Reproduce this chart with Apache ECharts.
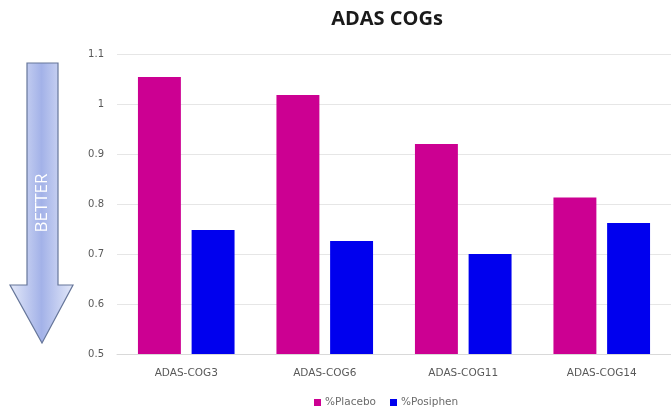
<!DOCTYPE html>
<html>
<head>
<meta charset="utf-8">
<script src="https://cdn.jsdelivr.net/npm/echarts@6/dist/echarts.min.js"></script>
<style>
  html, body { margin: 0; padding: 0; background: #fff; }
  #chart { width: 671px; height: 418px; }
</style>
</head>
<body>
<div id="chart"></div>
<script>
const categories = ['ADAS-COG3', 'ADAS-COG6', 'ADAS-COG11', 'ADAS-COG14']
const placebo = [1.054, 1.018, 0.92, 0.813]
const posiphen = [0.748, 0.726, 0.70, 0.762]
const seriesNames = ['%Placebo', '%Posiphen']

const chart = echarts.init(document.getElementById('chart'))

const option = {
  backgroundColor: '#fff',
  animation: false,
  title: {
    text: 'ADAS COGs',
    left: 382,
    top: 4,
    textAlign: 'center',
    textStyle: {
      fontFamily: 'Open Sans',
      fontSize: 20,
      fontWeight: 'bold',
      color: '#1a1a1a'
    }
  },
  legend: {
    data: seriesNames,
    bottom: 5,
    left: 309,
    itemWidth: 7,
    itemHeight: 7,
    itemGap: 14,
    icon: 'rect',
    textStyle: {
      fontFamily: 'DejaVu Sans',
      fontSize: 10.5,
      color: '#6b6b6b',
      padding: [0, 0, 0, -1]
    }
  },
  grid: {
    left: 117,
    right: -5,
    top: 54,
    bottom: 64
  },
  xAxis: {
    type: 'category',
    data: categories,
    axisLine: { lineStyle: { color: '#d9d9d9' } },
    axisTick: { show: false },
    axisLabel: {
      fontFamily: 'DejaVu Sans',
      fontSize: 10.5,
      color: '#595959',
      margin: 14
    }
  },
  yAxis: {
    type: 'value',
    min: 0.5,
    max: 1.1,
    interval: 0.1,
    axisLine: { show: false },
    axisTick: { show: false },
    axisLabel: {
      fontFamily: 'DejaVu Sans',
      fontSize: 10,
      color: '#595959',
      margin: 13,
      formatter: (v) => String(Math.round(v * 10) / 10)
    },
    splitLine: { lineStyle: { color: '#e6e6e6' } }
  },
  series: [
    {
      name: seriesNames[0],
      type: 'bar',
      data: placebo,
      barWidth: '31%',
      barGap: '25%',
      itemStyle: { color: '#cc0092' }
    },
    {
      name: seriesNames[1],
      type: 'bar',
      data: posiphen,
      barWidth: '31%',
      itemStyle: { color: '#0000ee' }
    }
  ],
  graphic: [
    {
      type: 'polygon',
      shape: {
        points: [[27, 63], [58, 63], [58, 285], [73, 285], [42, 343], [10, 285], [27, 285]]
      },
      style: {
        fill: {
          type: 'linear', x: 0, y: 0, x2: 1, y2: 0,
          colorStops: [
            { offset: 0, color: '#e4e9f9' },
            { offset: 0.5, color: '#a3b2e8' },
            { offset: 1, color: '#e4e9f9' }
          ]
        },
        stroke: '#66769a',
        lineWidth: 1.2
      }
    },
    {
      type: 'text',
      x: 42,
      y: 203,
      rotation: Math.PI / 2,
      style: {
        text: 'BETTER',
        fill: '#ffffff',
        fontFamily: 'Open Sans',
        fontSize: 17,
        align: 'center',
        verticalAlign: 'middle'
      }
    }
  ]
}

chart.setOption(option)
</script>
</body>
</html>
